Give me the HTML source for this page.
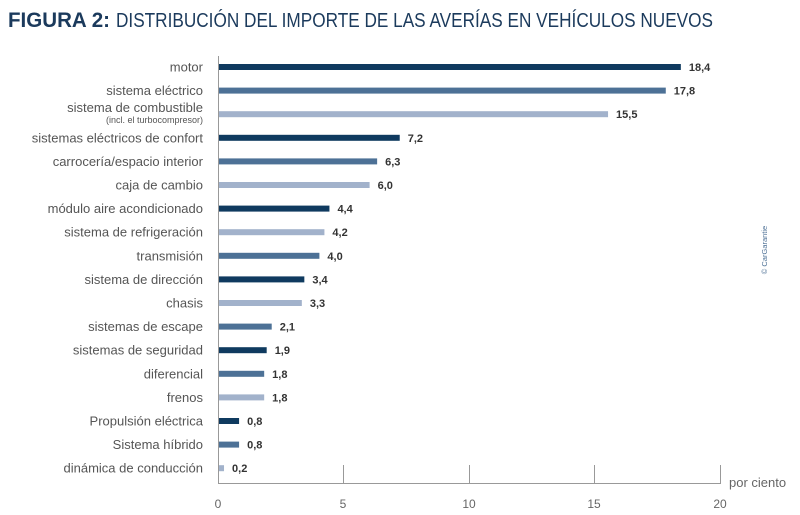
<!DOCTYPE html>
<html><head><meta charset="utf-8"><style>
body{margin:0;background:#fff;}
svg{display:block;font-family:"Liberation Sans",sans-serif;}
</style></head><body>
<svg width="800" height="515" viewBox="0 0 800 515">
<text x="8" y="27" font-size="21" fill="#1b3a5c" font-weight="bold" textLength="102" lengthAdjust="spacingAndGlyphs">FIGURA 2:</text>
<text x="116" y="27" font-size="20" fill="#1b3a5c" textLength="597" lengthAdjust="spacingAndGlyphs">DISTRIBUCIÓN DEL IMPORTE DE LAS AVERÍAS EN VEHÍCULOS NUEVOS</text>
<g stroke="#999" stroke-width="1" fill="none">
<line x1="218.5" y1="56" x2="218.5" y2="484"/>
<line x1="218" y1="483.5" x2="721" y2="483.5"/>
<line x1="343.5" y1="465" x2="343.5" y2="484"/>
<line x1="469.5" y1="465" x2="469.5" y2="484"/>
<line x1="594.5" y1="465" x2="594.5" y2="484"/>
<line x1="720.5" y1="465" x2="720.5" y2="484"/>
</g>
<g font-size="12" fill="#666" text-anchor="middle">
<text x="218" y="508">0</text><text x="343" y="508">5</text><text x="469" y="508">10</text><text x="594" y="508">15</text><text x="720" y="508">20</text>
</g>
<text x="729" y="487" font-size="13" fill="#666">por ciento</text>
<text x="767" y="250" font-size="7.5" fill="#4e7196" text-anchor="middle" transform="rotate(-90 767 250)">© CarGarantie</text>
<g font-size="13" fill="#555" text-anchor="end" id="lbl"></g>
<g id="bars"></g>
</svg>
<script>
var d=[["motor",18.4,0],["sistema eléctrico",17.8,1],["sistema de combustible",15.5,2],["sistemas eléctricos de confort",7.2,0],["carrocería/espacio interior",6.3,1],["caja de cambio",6.0,2],["módulo aire acondicionado",4.4,0],["sistema de refrigeración",4.2,2],["transmisión",4.0,1],["sistema de dirección",3.4,0],["chasis",3.3,2],["sistemas de escape",2.1,1],["sistemas de seguridad",1.9,0],["diferencial",1.8,1],["frenos",1.8,2],["Propulsión eléctrica",0.8,0],["Sistema híbrido",0.8,1],["dinámica de conducción",0.2,2]];
var c=["#0f3a5f","#4d7196","#a2b2cb"],ns="http://www.w3.org/2000/svg",L=document.getElementById("lbl"),B=document.getElementById("bars");
d.forEach(function(r,i){var y=67+i*23.6;
var t=document.createElementNS(ns,"text");t.setAttribute("x",203);t.setAttribute("y",i==2?y-2:y+4.5);t.textContent=r[0];L.appendChild(t);
if(i==2){var t2=document.createElementNS(ns,"text");t2.setAttribute("x",203);t2.setAttribute("y",y+9);t2.setAttribute("font-size","9");t2.textContent="(incl. el turbocompresor)";L.appendChild(t2);}
var w=r[1]*25.1,b=document.createElementNS(ns,"rect");b.setAttribute("x",219);b.setAttribute("y",y-3);b.setAttribute("width",w);b.setAttribute("height",6);b.setAttribute("fill",c[r[2]]);B.appendChild(b);
var v=document.createElementNS(ns,"text");v.setAttribute("x",219+w+8);v.setAttribute("y",y+4);v.setAttribute("font-size","11");v.setAttribute("font-weight","bold");v.setAttribute("fill","#333");v.textContent=r[1].toFixed(1).replace(".",",");B.appendChild(v);});
</script>
</body></html>
